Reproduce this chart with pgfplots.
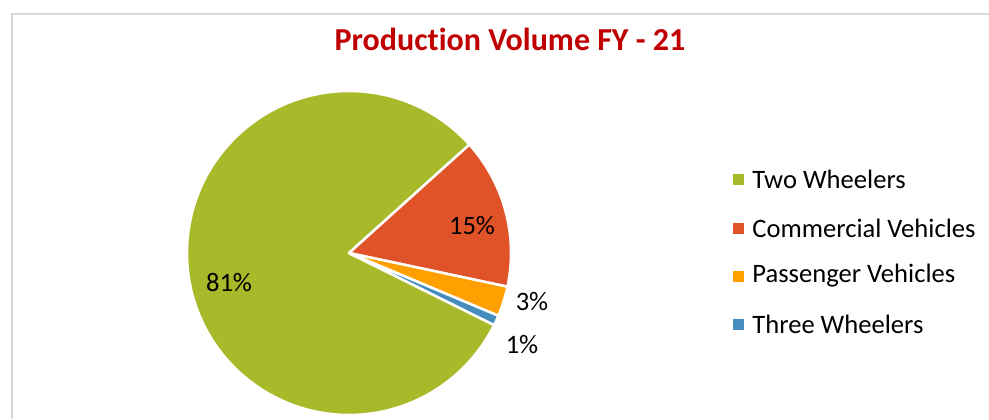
\documentclass[border=0pt]{standalone}
\usepackage{pgfplots}
\pgfplotsset{compat=1.18}
\usepackage{fontspec}
\setmainfont{Carlito}[Ligatures=NoCommon]
\definecolor{cTW}{HTML}{A8B92A}
\definecolor{cCV}{HTML}{E05329}
\definecolor{cPV}{HTML}{FFA000}
\definecolor{cTh}{HTML}{468DBF}
\definecolor{cTitle}{HTML}{C00000}
\definecolor{cFrame}{HTML}{D9D9D9}
% data (percent)
\def\vTW{81}
\def\vCV{15}
\def\vPV{3}
\def\vTh{1}
\pgfmathsetmacro\aA{42}
\pgfmathsetmacro\aB{\aA-3.6*\vCV}
\pgfmathsetmacro\aC{\aB-3.6*\vPV}
\pgfmathsetmacro\aD{\aC-3.6*\vTh}
\pgfmathsetmacro\aE{\aA+3.6*\vTW}
\newcommand\lf{\fontsize{13.3}{16}\selectfont}
\begin{document}
\begin{tikzpicture}
\useasboundingbox (0,0) rectangle (494.5pt,209.5pt);
\fill[white] (0,0) rectangle (494.5pt,209.5pt);
\begin{axis}[anchor=south west, at={(0,0)}, x=0.5pt, y=0.5pt,
  xmin=0, xmax=989, ymin=0, ymax=419, hide axis, clip=false]
\draw[cFrame, line width=1pt] (axis cs:11.5,0) -- (axis cs:11.5,405) -- (axis cs:989,405);
% pie slices
\filldraw[fill=cTW, draw=white, line width=1.25pt, line join=round]
  (axis cs:349,166) -- ++(\aA:81pt) arc[start angle=\aA, end angle=\aE, radius=81pt] -- cycle;
\filldraw[fill=cCV, draw=white, line width=1.25pt, line join=round]
  (axis cs:349,166) -- ++(\aB:81pt) arc[start angle=\aB, end angle=\aA, radius=81pt] -- cycle;
\filldraw[fill=cPV, draw=white, line width=1.25pt, line join=round]
  (axis cs:349,166) -- ++(\aC:81pt) arc[start angle=\aC, end angle=\aB, radius=81pt] -- cycle;
\filldraw[fill=cTh, draw=white, line width=1.25pt, line join=round]
  (axis cs:349,166) -- ++(\aD:81pt) arc[start angle=\aD, end angle=\aC, radius=81pt] -- cycle;
% data labels
\node[font=\lf] at (axis cs:229,136) {\vTW\%};
\node[font=\lf] at (axis cs:472,193) {\vCV\%};
\node[font=\lf] at (axis cs:532,117) {\vPV\%};
\node[font=\lf] at (axis cs:522,74) {\vTh\%};
% title
\node[font=\fontsize{16}{19}\selectfont\bfseries, text=cTitle] at (axis cs:510,380) {Production Volume FY - 21};
% legend
\fill[cTW] (axis cs:733,234.5) rectangle (axis cs:744,245.5);
\fill[cCV] (axis cs:733,185.5) rectangle (axis cs:744,196.5);
\fill[cPV] (axis cs:733,137.5) rectangle (axis cs:744,148.5);
\fill[cTh] (axis cs:733,89.5) rectangle (axis cs:744,100.5);
\node[anchor=west, inner sep=0pt, font=\lf] at (axis cs:752,240) {Two Wheelers};
\node[anchor=west, inner sep=0pt, font=\lf] at (axis cs:752,191) {Commercial Vehicles};
\node[anchor=west, inner sep=0pt, font=\lf] at (axis cs:752,143) {Passenger Vehicles};
\node[anchor=west, inner sep=0pt, font=\lf] at (axis cs:752,95) {Three Wheelers};
\end{axis}
\end{tikzpicture}
\end{document}
